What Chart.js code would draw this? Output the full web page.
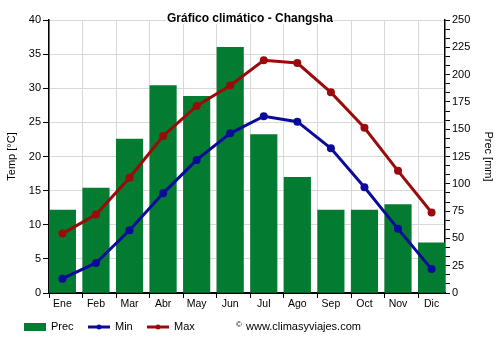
<!DOCTYPE html>
<html lang="es">
<head>
<meta charset="utf-8">
<title>Gráfico climático - Changsha</title>
<script src="https://cdn.jsdelivr.net/npm/chart.js@4.4.1/dist/chart.umd.min.js"></script>
<style>
  html, body { margin: 0; padding: 0; background: #fff; }
  #wrap { width: 500px; height: 350px; }
</style>
</head>
<body>
<div id="wrap"><canvas id="climaChart" width="500" height="350"></canvas></div>
<script>
// Datos climáticos de Changsha (media mensual)
const meses = ['Ene', 'Feb', 'Mar', 'Abr', 'May', 'Jun', 'Jul', 'Ago', 'Sep', 'Oct', 'Nov', 'Dic'];
const precipitacion = [76, 96, 141, 190, 180, 225, 145, 106, 76, 76, 81, 46];
const tempMin = [2.1, 4.4, 9.2, 14.6, 19.5, 23.4, 25.9, 25.1, 21.2, 15.5, 9.4, 3.5];
const tempMax = [8.7, 11.5, 16.9, 23.0, 27.4, 30.4, 34.1, 33.7, 29.4, 24.2, 17.9, 11.8];
const ticksTemp = [0, 5, 10, 15, 20, 25, 30, 35, 40];
const ticksPrec = [0, 25, 50, 75, 100, 125, 150, 175, 200, 225, 250];

const FONT = '"Liberation Sans", Arial, sans-serif';
const VERDE = '#037b30';
const AZUL = '#0b0b9b';
const ROJO = '#9b0b0b';
const REJILLA = '#d9d9d9';

// medio hueco a cada lado del eje x (en unidades de mes)
const MARGEN_X = 0.4;

const toPoints = arr => arr.map((v, i) => ({ x: i, y: v }));

// ===== título con fondo blanco encima de la rejilla =====
const tituloPlugin = {
    id: 'tituloClima',
    afterDraw(chart) {
        const ctx = chart.ctx;
        const texto = 'Gráfico climático - Changsha';
        ctx.save();
        ctx.font = 'bold 12px ' + FONT;
        const w = ctx.measureText(texto).width;
        const cx = chart.width / 2;
        ctx.fillStyle = '#fff';
        ctx.fillRect(cx - w / 2 - 1, 11, w + 2, 13);
        ctx.fillStyle = '#000';
        ctx.textAlign = 'center';
        ctx.textBaseline = 'alphabetic';
        ctx.fillText(texto, cx, 21.5);
        ctx.restore();
    }
};

// ===== leyenda inferior + marca de agua =====
const leyendaPlugin = {
    id: 'leyendaClima',
    afterDraw(chart) {
        const ctx = chart.ctx;
        const ds = chart.data.datasets;
        const y = 327;
        ctx.save();
        ctx.font = '11px ' + FONT;
        ctx.textBaseline = 'middle';

        // Prec
        ctx.fillStyle = ds[0].backgroundColor;
        ctx.fillRect(24, y - 4, 22, 8);
        ctx.fillStyle = '#000';
        ctx.fillText(ds[0].label, 51, y);

        // Min / Max
        [[ds[1], 88, 115], [ds[2], 147, 174]].forEach(([d, x0, xt]) => {
            ctx.strokeStyle = d.borderColor;
            ctx.lineWidth = 3;
            ctx.beginPath();
            ctx.moveTo(x0, y);
            ctx.lineTo(x0 + 22, y);
            ctx.stroke();
            ctx.fillStyle = d.borderColor;
            ctx.beginPath();
            ctx.arc(x0 + 11, y, 2.5, 0, Math.PI * 2);
            ctx.fill();
            ctx.fillStyle = '#000';
            ctx.fillText(d.label, xt, y);
        });

        ctx.font = '8px ' + FONT;
        ctx.fillText('©', 236, y - 2);
        ctx.font = '11px ' + FONT;
        ctx.fillText('www.climasyviajes.com', 246, y);
        ctx.restore();
    }
};

const ctx = document.getElementById('climaChart').getContext('2d');
new Chart(ctx, {
    type: 'bar',
    data: {
        datasets: [
            {
                type: 'bar',
                label: 'Prec',
                data: toPoints(precipitacion),
                backgroundColor: VERDE,
                barThickness: 26.5,
                yAxisID: 'yPrec',
                order: 3
            },
            {
                type: 'line',
                label: 'Min',
                data: toPoints(tempMin),
                borderColor: AZUL,
                backgroundColor: AZUL,
                borderWidth: 3,
                pointRadius: 4,
                pointBorderWidth: 0,
                pointHoverRadius: 4,
                tension: 0,
                yAxisID: 'yTemp',
                order: 1
            },
            {
                type: 'line',
                label: 'Max',
                data: toPoints(tempMax),
                borderColor: ROJO,
                backgroundColor: ROJO,
                borderWidth: 3,
                pointRadius: 4,
                pointBorderWidth: 0,
                pointHoverRadius: 4,
                tension: 0,
                yAxisID: 'yTemp',
                order: 2
            }
        ]
    },
    options: {
        responsive: false,
        animation: false,
        layout: { padding: { left: 0, right: 0, top: 20, bottom: 37 } },
        plugins: {
            legend: { display: false },
            title: { display: false },
            tooltip: { enabled: false }
        },
        scales: {
            x: {
                type: 'linear',
                offset: false,
                min: -MARGEN_X,
                max: meses.length - 1 + MARGEN_X,
                afterBuildTicks: s => { s.ticks = meses.map((m, i) => ({ value: i - MARGEN_X })); },
                afterFit: s => { s.height = 20; },
                ticks: {
                    autoSkip: false,
                    maxRotation: 0,
                    padding: 0,
                    labelOffset: 13.4,
                    color: '#000',
                    font: { family: FONT, size: 10.5 },
                    callback: (v, i) => meses[i]
                },
                grid: { offset: false, color: REJILLA, tickLength: 5, tickColor: '#000' },
                border: { color: '#000', width: 2 }
            },
            yTemp: {
                position: 'left',
                min: 0,
                max: 40,
                afterBuildTicks: s => { s.ticks = ticksTemp.map(v => ({ value: v })); },
                afterFit: s => { s.width = 49; },
                ticks: { color: '#000', padding: 2, font: { family: FONT, size: 11 } },
                grid: { color: REJILLA, tickLength: 6, tickColor: '#000' },
                border: { color: '#000', width: 1.5 },
                title: { display: true, text: 'Temp [°C]', color: '#000', padding: { top: 5.5, bottom: 0 }, font: { family: FONT, size: 11 } }
            },
            yPrec: {
                position: 'right',
                min: 0,
                max: 250,
                // marcas menores cada tercio de 25 mm
                afterBuildTicks: s => {
                    const t = [];
                    for (let k = 0; k < ticksPrec.length - 1; k++) {
                        const a = ticksPrec[k], b = ticksPrec[k + 1];
                        t.push({ value: a }, { value: a + (b - a) / 3 }, { value: a + 2 * (b - a) / 3 });
                    }
                    t.push({ value: ticksPrec[ticksPrec.length - 1] });
                    s.ticks = t;
                },
                afterFit: s => { s.width = 55; },
                ticks: {
                    autoSkip: false,
                    color: '#000',
                    padding: 2,
                    font: { family: FONT, size: 11 },
                    callback: (v, i) => (i % 3 === 0 ? String(Math.round(v)) : '')
                },
                grid: { drawOnChartArea: false, tickLength: 5, tickColor: '#000' },
                border: { color: '#000', width: 1.5 },
                title: { display: true, text: 'Prec [mm]', color: '#000', padding: { top: 5.5, bottom: 0 }, font: { family: FONT, size: 11 } }
            }
        }
    },
    plugins: [tituloPlugin, leyendaPlugin]
});
</script>
</body>
</html>
